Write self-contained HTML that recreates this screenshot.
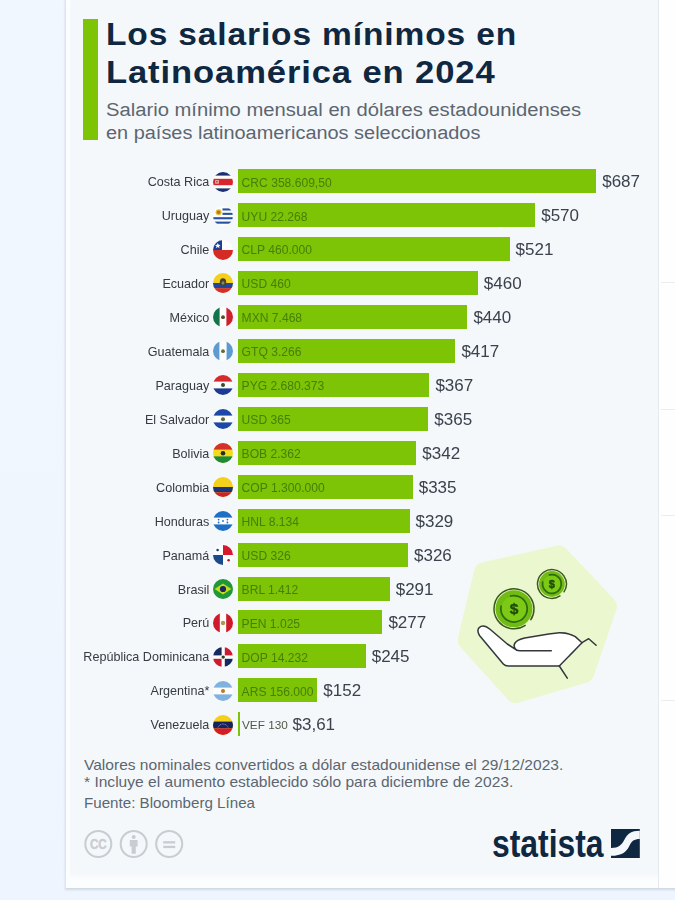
<!DOCTYPE html>
<html lang="es">
<head>
<meta charset="utf-8">
<title>Los salarios mínimos en Latinoamérica en 2024</title>
<style>
html,body{margin:0;padding:0}
body{width:675px;height:900px;overflow:hidden;position:relative;font-family:"Liberation Sans",sans-serif;
 background:linear-gradient(180deg,#f0f7ff 0%,#eff6fe 70%,#eef5fe 100%);}
#wrap{position:absolute;left:-20px;top:-20px;width:715px;height:940px;filter:blur(.55px)}
#stage{position:absolute;left:20px;top:20px;width:675px;height:900px}
#panel{position:absolute;left:65px;top:-6px;width:620px;height:893.6px;background:#fcfdfe;border-left:1px solid #e1e4ea;box-shadow:0 2px 2px rgba(140,150,160,.3)}
#right{position:absolute;left:658px;top:0;width:17px;height:887.6px;background:#fefefe;border-left:1px solid #e6e9ee}
#right i{position:absolute;left:2px;right:0;height:1px;background:#ececee}
#card{position:absolute;left:69.5px;top:0;width:588.5px;height:874px;background:#f5f8fb}
#cardfade{position:absolute;left:69.5px;top:874px;width:588.5px;height:6px;background:linear-gradient(#f5f8fb,#fcfdfe)}
#accent{position:absolute;left:83.3px;top:18.8px;width:14.3px;height:121.5px;background:#7dc306}
h1{position:absolute;left:105.5px;top:15.5px;margin:0;font-size:31px;line-height:38.3px;font-weight:700;color:#0f2741;white-space:nowrap;letter-spacing:.8px}
h1 span,h2 span,.note span{display:block;transform-origin:0 50%}
h2{position:absolute;left:105.5px;top:99.2px;margin:0;font-size:18.8px;line-height:22.4px;font-weight:400;color:#5c6670;white-space:nowrap}
.lbl{position:absolute;left:60px;width:149.3px;margin-top:1px;text-align:right;height:24px;line-height:24px;font-size:12.6px;color:#353b43;white-space:nowrap}
.flag{position:absolute;left:212.9px}
.bar{position:absolute;left:238px;height:24px;background:#7dc306}
.loc{position:absolute;left:241.6px;margin-top:1.2px;height:24px;line-height:24px;font-size:12.1px;color:#467f06;white-space:nowrap}
.val{position:absolute;margin-top:1px;height:24px;line-height:24px;font-size:17px;color:#3a424d;white-space:nowrap}
.note{position:absolute;left:84px;font-size:14.4px;color:#5c6670;white-space:nowrap;line-height:18px}
</style>
</head>
<body>
<div id="wrap"><div id="stage">
<div id="panel"></div>
<div id="right"><i style="top:282px"></i><i style="top:409px"></i><i style="top:515px"></i><i style="top:700px"></i></div>
<div id="card"></div><div id="cardfade"></div>
<div id="accent"></div>
<h1><span style="transform:scaleX(1.081)">Los salarios mínimos en</span><span style="transform:scaleX(1.115)">Latinoamérica en 2024</span></h1>
<h2><span style="transform:scaleX(1.076)">Salario mínimo mensual en dólares estadounidenses</span><span style="transform:scaleX(1.061)">en países latinoamericanos seleccionados</span></h2>
<div class="lbl" style="top:169.40px">Costa Rica</div>
<svg class="flag" style="top:171.70px" width="20" height="20" viewBox="0 0 20 20"><defs><clipPath id="c0"><circle cx="10" cy="10" r="10"/></clipPath></defs><g clip-path="url(#c0)"><rect width="20" height="20" fill="#fdfdfd"/><rect width="20" height="3.6" fill="#1b2f72"/><rect y="16.4" width="20" height="3.6" fill="#1b2f72"/><rect y="6.8" width="20" height="6.4" fill="#d9232e"/><rect x="2.2" y="8.2" width="3.6" height="3.4" fill="#e8c9b4"/><rect x="3.2" y="9" width="1.4" height="1.6" fill="#7a4a4a"/></g></svg>
<div class="bar" style="top:169.40px;width:358.2px"></div>
<div class="loc" style="top:169.40px">CRC 358.609,50</div>
<div class="val" style="top:169.40px;left:602.2px">$687</div>
<div class="lbl" style="top:203.33px">Uruguay</div>
<svg class="flag" style="top:205.63px" width="20" height="20" viewBox="0 0 20 20"><defs><clipPath id="c1"><circle cx="10" cy="10" r="10"/></clipPath></defs><g clip-path="url(#c1)"><rect width="20" height="20" fill="#fdfdfd"/><g fill="#27509e"><rect x="9.5" y="2.4" width="11" height="2.1"/><rect x="9.5" y="6.8" width="11" height="2.1"/><rect y="11.2" width="20" height="2.1"/><rect y="15.6" width="20" height="2.1"/></g><circle cx="5.6" cy="6.2" r="3" fill="#e8b830"/><circle cx="5.6" cy="6.2" r="1.7" fill="#a87a2a"/></g></svg>
<div class="bar" style="top:203.33px;width:297.2px"></div>
<div class="loc" style="top:203.33px">UYU 22.268</div>
<div class="val" style="top:203.33px;left:541.2px">$570</div>
<div class="lbl" style="top:237.26px">Chile</div>
<svg class="flag" style="top:239.56px" width="20" height="20" viewBox="0 0 20 20"><defs><clipPath id="c2"><circle cx="10" cy="10" r="10"/></clipPath></defs><g clip-path="url(#c2)"><rect width="20" height="20" fill="#fdfdfd"/><rect y="10" width="20" height="10" fill="#d52b25"/><rect width="9" height="10" fill="#1c3f94"/><path d="M4.8 2.9l.8 1.8 2 .2-1.5 1.3.4 2-1.7-1.1-1.7 1.1.4-2L2 4.9l2-.2z" fill="#fff"/></g></svg>
<div class="bar" style="top:237.26px;width:271.6px"></div>
<div class="loc" style="top:237.26px">CLP 460.000</div>
<div class="val" style="top:237.26px;left:515.6px">$521</div>
<div class="lbl" style="top:271.19px">Ecuador</div>
<svg class="flag" style="top:273.49px" width="20" height="20" viewBox="0 0 20 20"><defs><clipPath id="c3"><circle cx="10" cy="10" r="10"/></clipPath></defs><g clip-path="url(#c3)"><rect width="20" height="20" fill="#f4cf1c"/><rect y="10" width="20" height="5.2" fill="#1f469c"/><rect y="15.2" width="20" height="4.8" fill="#d52b35"/><ellipse cx="10" cy="9" rx="3.2" ry="3.8" fill="#4a4026"/><ellipse cx="10" cy="10" rx="1.5" ry="1.8" fill="#7a8a6a"/></g></svg>
<div class="bar" style="top:271.19px;width:239.8px"></div>
<div class="loc" style="top:271.19px">USD 460</div>
<div class="val" style="top:271.19px;left:483.8px">$460</div>
<div class="lbl" style="top:305.12px">México</div>
<svg class="flag" style="top:307.42px" width="20" height="20" viewBox="0 0 20 20"><defs><clipPath id="c4"><circle cx="10" cy="10" r="10"/></clipPath></defs><g clip-path="url(#c4)"><rect width="20" height="20" fill="#fdfdfd"/><rect width="6.6" height="20" fill="#14734a"/><rect x="13.4" width="6.6" height="20" fill="#cf2030"/><circle cx="10" cy="10.2" r="1.9" fill="#5a4a2a"/></g></svg>
<div class="bar" style="top:305.12px;width:229.4px"></div>
<div class="loc" style="top:305.12px">MXN 7.468</div>
<div class="val" style="top:305.12px;left:473.4px">$440</div>
<div class="lbl" style="top:339.05px">Guatemala</div>
<svg class="flag" style="top:341.35px" width="20" height="20" viewBox="0 0 20 20"><defs><clipPath id="c5"><circle cx="10" cy="10" r="10"/></clipPath></defs><g clip-path="url(#c5)"><rect width="20" height="20" fill="#fdfdfd"/><rect width="6.4" height="20" fill="#5b9bd2"/><rect x="13.6" width="6.4" height="20" fill="#5b9bd2"/><circle cx="10" cy="10.2" r="1.9" fill="#5f6f3a"/></g></svg>
<div class="bar" style="top:339.05px;width:217.4px"></div>
<div class="loc" style="top:339.05px">GTQ 3.266</div>
<div class="val" style="top:339.05px;left:461.4px">$417</div>
<div class="lbl" style="top:372.98px">Paraguay</div>
<svg class="flag" style="top:375.28px" width="20" height="20" viewBox="0 0 20 20"><defs><clipPath id="c6"><circle cx="10" cy="10" r="10"/></clipPath></defs><g clip-path="url(#c6)"><rect width="20" height="20" fill="#fdfdfd"/><rect width="20" height="6.6" fill="#d52b2f"/><rect y="13.4" width="20" height="6.6" fill="#1b3a94"/><circle cx="10" cy="10" r="2" fill="#3a4a2a"/></g></svg>
<div class="bar" style="top:372.98px;width:191.4px"></div>
<div class="loc" style="top:372.98px">PYG 2.680.373</div>
<div class="val" style="top:372.98px;left:435.4px">$367</div>
<div class="lbl" style="top:406.91px">El Salvador</div>
<svg class="flag" style="top:409.21px" width="20" height="20" viewBox="0 0 20 20"><defs><clipPath id="c7"><circle cx="10" cy="10" r="10"/></clipPath></defs><g clip-path="url(#c7)"><rect width="20" height="20" fill="#fdfdfd"/><rect width="20" height="6.6" fill="#1c49a8"/><rect y="13.4" width="20" height="6.6" fill="#1c49a8"/><circle cx="10" cy="10.2" r="2" fill="#5a6a3a"/></g></svg>
<div class="bar" style="top:406.91px;width:190.3px"></div>
<div class="loc" style="top:406.91px">USD 365</div>
<div class="val" style="top:406.91px;left:434.3px">$365</div>
<div class="lbl" style="top:440.84px">Bolivia</div>
<svg class="flag" style="top:443.14px" width="20" height="20" viewBox="0 0 20 20"><defs><clipPath id="c8"><circle cx="10" cy="10" r="10"/></clipPath></defs><g clip-path="url(#c8)"><rect width="20" height="20" fill="#f2da1c"/><rect width="20" height="6.6" fill="#d6302a"/><rect y="13.4" width="20" height="6.6" fill="#1a8a3c"/><circle cx="10" cy="10.2" r="2.3" fill="#2a2a20"/></g></svg>
<div class="bar" style="top:440.84px;width:178.3px"></div>
<div class="loc" style="top:440.84px">BOB 2.362</div>
<div class="val" style="top:440.84px;left:422.3px">$342</div>
<div class="lbl" style="top:474.77px">Colombia</div>
<svg class="flag" style="top:477.07px" width="20" height="20" viewBox="0 0 20 20"><defs><clipPath id="c9"><circle cx="10" cy="10" r="10"/></clipPath></defs><g clip-path="url(#c9)"><rect width="20" height="20" fill="#f4cf1c"/><rect y="10" width="20" height="5.4" fill="#1c3578"/><rect y="15.4" width="20" height="4.6" fill="#cf2030"/></g></svg>
<div class="bar" style="top:474.77px;width:174.7px"></div>
<div class="loc" style="top:474.77px">COP 1.300.000</div>
<div class="val" style="top:474.77px;left:418.7px">$335</div>
<div class="lbl" style="top:508.70px">Honduras</div>
<svg class="flag" style="top:511.00px" width="20" height="20" viewBox="0 0 20 20"><defs><clipPath id="c10"><circle cx="10" cy="10" r="10"/></clipPath></defs><g clip-path="url(#c10)"><rect width="20" height="20" fill="#fdfdfd"/><rect width="20" height="6.6" fill="#1f6fc4"/><rect y="13.4" width="20" height="6.6" fill="#1f6fc4"/><g fill="#1f6fc4"><circle cx="10" cy="10" r=".9"/><circle cx="5.6" cy="8.6" r=".9"/><circle cx="14.4" cy="8.6" r=".9"/><circle cx="5.6" cy="11.5" r=".9"/><circle cx="14.4" cy="11.5" r=".9"/></g></g></svg>
<div class="bar" style="top:508.70px;width:171.5px"></div>
<div class="loc" style="top:508.70px">HNL 8.134</div>
<div class="val" style="top:508.70px;left:415.5px">$329</div>
<div class="lbl" style="top:542.63px">Panamá</div>
<svg class="flag" style="top:544.93px" width="20" height="20" viewBox="0 0 20 20"><defs><clipPath id="c11"><circle cx="10" cy="10" r="10"/></clipPath></defs><g clip-path="url(#c11)"><rect width="20" height="20" fill="#fdfdfd"/><rect x="10" width="10" height="10" fill="#d41a2c"/><rect y="10" width="10" height="10" fill="#1a4a8c"/><circle cx="4.6" cy="5" r="1.3" fill="#1a3a7c"/><circle cx="15.6" cy="15.2" r="1.3" fill="#b01a2c"/></g></svg>
<div class="bar" style="top:542.63px;width:170.0px"></div>
<div class="loc" style="top:542.63px">USD 326</div>
<div class="val" style="top:542.63px;left:414.0px">$326</div>
<div class="lbl" style="top:576.56px">Brasil</div>
<svg class="flag" style="top:578.86px" width="20" height="20" viewBox="0 0 20 20"><defs><clipPath id="c12"><circle cx="10" cy="10" r="10"/></clipPath></defs><g clip-path="url(#c12)"><rect width="20" height="20" fill="#1f983a"/><path d="M10 4.6L18.4 10 10 15.4 1.6 10z" fill="#c4dc1c"/><circle cx="10" cy="10" r="3.1" fill="#1a2a5c"/></g></svg>
<div class="bar" style="top:576.56px;width:151.7px"></div>
<div class="loc" style="top:576.56px">BRL 1.412</div>
<div class="val" style="top:576.56px;left:395.7px">$291</div>
<div class="lbl" style="top:610.49px">Perú</div>
<svg class="flag" style="top:612.79px" width="20" height="20" viewBox="0 0 20 20"><defs><clipPath id="c13"><circle cx="10" cy="10" r="10"/></clipPath></defs><g clip-path="url(#c13)"><rect width="20" height="20" fill="#fdfdfd"/><rect width="6.8" height="20" fill="#cf1a2c"/><rect x="13.2" width="6.8" height="20" fill="#cf1a2c"/><circle cx="10" cy="10" r="2.2" fill="#b09a4a"/></g></svg>
<div class="bar" style="top:610.49px;width:144.4px"></div>
<div class="loc" style="top:610.49px">PEN 1.025</div>
<div class="val" style="top:610.49px;left:388.4px">$277</div>
<div class="lbl" style="top:644.42px">República Dominicana</div>
<svg class="flag" style="top:646.72px" width="20" height="20" viewBox="0 0 20 20"><defs><clipPath id="c14"><circle cx="10" cy="10" r="10"/></clipPath></defs><g clip-path="url(#c14)"><rect width="20" height="20" fill="#fdfdfd"/><rect width="8.6" height="8.4" fill="#15295e"/><rect x="11.8" width="8.2" height="8.4" fill="#cc1a30"/><rect y="11.8" width="8.6" height="8.2" fill="#cc1a30"/><rect x="11.8" y="11.8" width="8.2" height="8.2" fill="#15295e"/><circle cx="10.2" cy="10.1" r="1.7" fill="#2a3a2a"/></g></svg>
<div class="bar" style="top:644.42px;width:127.7px"></div>
<div class="loc" style="top:644.42px">DOP 14.232</div>
<div class="val" style="top:644.42px;left:371.7px">$245</div>
<div class="lbl" style="top:678.35px">Argentina*</div>
<svg class="flag" style="top:680.65px" width="20" height="20" viewBox="0 0 20 20"><defs><clipPath id="c15"><circle cx="10" cy="10" r="10"/></clipPath></defs><g clip-path="url(#c15)"><rect width="20" height="20" fill="#fdfdfd"/><rect width="20" height="6.6" fill="#80b2e0"/><rect y="13.4" width="20" height="6.6" fill="#80b2e0"/><circle cx="10" cy="10" r="2" fill="#b8782a"/></g></svg>
<div class="bar" style="top:678.35px;width:79.3px"></div>
<div class="loc" style="top:678.35px">ARS 156.000</div>
<div class="val" style="top:678.35px;left:323.3px">$152</div>
<div class="lbl" style="top:712.28px">Venezuela</div>
<svg class="flag" style="top:714.58px" width="20" height="20" viewBox="0 0 20 20"><defs><clipPath id="c16"><circle cx="10" cy="10" r="10"/></clipPath></defs><g clip-path="url(#c16)"><rect width="20" height="20" fill="#f4cf1c"/><rect y="6.6" width="20" height="6.8" fill="#15225e"/><rect y="13.4" width="20" height="6.6" fill="#d41a2c"/><path d="M5 12.4a5.4 5.4 0 0 1 10 0" fill="none" stroke="#8fa4e0" stroke-width="1" stroke-dasharray="1 .7"/></g></svg>
<div class="bar" style="top:712.28px;width:2.0px"></div>
<div class="loc" style="top:712.28px;left:242px;color:#4d5a45;font-size:11.8px">VEF 130</div>
<div class="val" style="top:712.28px;left:292.5px">$3,61</div>
<div class="note" style="top:756px"><span style="transform:scaleX(1.08)">Valores nominales convertidos a dólar estadounidense el 29/12/2023.</span></div>
<div class="note" style="top:772.6px"><span style="transform:scaleX(1.082)">* Incluye el aumento establecido sólo para diciembre de 2023.</span></div>
<div class="note" style="top:793.9px"><span style="transform:scaleX(1.053)">Fuente: Bloomberg Línea</span></div>

<svg id="illu" style="position:absolute;left:440px;top:530px" width="200" height="190" viewBox="440 530 200 190">
<path d="M483.9 572.3L558.8 555.4L607 606.3L584.3 672.8L515.5 693.1L467.7 640.3Z" fill="#ebf7ce" stroke="#ebf7ce" stroke-width="20" stroke-linejoin="round"/>
<g>
<circle cx="514" cy="608.8" r="18.5" fill="#70bc12"/><circle cx="514" cy="608.8" r="20" fill="none" stroke="#3b5a1c" stroke-width="1.5" stroke-linecap="round" stroke-dasharray="116.9 8.8" transform="rotate(56 514 608.8)"/><circle cx="514" cy="608.8" r="12.6" fill="#7cc916"/><circle cx="514" cy="608.8" r="13.2" fill="none" stroke="#2f6b0c" stroke-width="1.7" stroke-linecap="round" stroke-dasharray="68.0 14.9" transform="rotate(255 514 608.8)"/><text x="514" y="614.4" text-anchor="middle" font-family="Liberation Sans, sans-serif" font-weight="700" font-size="15.5" fill="#1f4a0a" stroke="#1f4a0a" stroke-width=".4">$</text>
<circle cx="551.9" cy="584" r="12.9" fill="#70bc12"/><circle cx="551.9" cy="584" r="14.4" fill="none" stroke="#3b5a1c" stroke-width="1.5" stroke-linecap="round" stroke-dasharray="84.1 6.3" transform="rotate(56 551.9 584)"/><circle cx="551.9" cy="584" r="8.8" fill="#7cc916"/><circle cx="551.9" cy="584" r="9.4" fill="none" stroke="#2f6b0c" stroke-width="1.7" stroke-linecap="round" stroke-dasharray="48.4 10.6" transform="rotate(255 551.9 584)"/><text x="551.9" y="588" text-anchor="middle" font-family="Liberation Sans, sans-serif" font-weight="700" font-size="11" fill="#1f4a0a" stroke="#1f4a0a" stroke-width=".4">$</text>
</g>
<path d="M582 642.7L575.3 636.6Q568 632.6 559.3 632.8L548.7 633.9L524.7 638.1Q517 640 515 643Q512.6 646.7 516.7 650.2L507.3 644L490 629.3Q483.3 623.8 479.2 627.6Q476.5 630.5 479.5 635.5L503.3 664Q505 666 508.5 666L559.3 666Z" fill="#fff" stroke="#32373d" stroke-width="1.5" stroke-linejoin="round"/>
<path d="M516.7 650.2Q517.5 650.7 520 650.7L551.3 650.7" fill="none" stroke="#32373d" stroke-width="1.5" stroke-linecap="round"/>
<path d="M582 642.7L588.7 638.7L596.1 645.3M559.3 666L567.3 678.1" fill="none" stroke="#32373d" stroke-width="1.5" stroke-linecap="round" stroke-linejoin="round"/>
</svg>
<svg id="cc" style="position:absolute;left:80px;top:826px" width="110" height="36" viewBox="80 826 110 36">
<g fill="none" stroke="#c9cdd1" stroke-width="2.1">
<circle cx="98.3" cy="844" r="13"/><circle cx="133.7" cy="844" r="13"/><circle cx="169.2" cy="844" r="13"/>
</g>
<text x="89.9" y="849.2" textLength="16.8" lengthAdjust="spacingAndGlyphs" font-family="Liberation Sans, sans-serif" font-weight="700" font-size="14.6" fill="#c9cdd1" stroke="#c9cdd1" stroke-width=".4">CC</text>
<g fill="#c9cdd1"><circle cx="133.7" cy="837" r="2"/><path d="M129.8 840h7.800v6.600h-1.800v7.200h-4.200v-7.200h-1.800z"/>
<rect x="163.2" y="841.2" width="12" height="2.3"/><rect x="163.2" y="845.8" width="12" height="2.3"/></g>
</svg>
<div id="logo" style="position:absolute;left:491.5px;top:820.6px;font-size:38.4px;line-height:46px;font-weight:700;color:#0f2741;transform:scaleX(.83);transform-origin:0 50%;white-space:nowrap">statista</div>
<svg style="position:absolute;left:611.3px;top:829.4px" width="28.8" height="29" viewBox="0 0 28.8 29">
<rect width="28.8" height="29" fill="#0f2741"/>
<path d="M0 19C8 19 10.5 16 13.5 10.500C16.5 4.8 20 1.8 28.8 1.800L28.8 10C23 10 20.8 12 18.3 17C15.3 23 11 26.8 0 26.800Z" fill="#f5f8fb"/>
</svg>
</div></div>
</body>
</html>
